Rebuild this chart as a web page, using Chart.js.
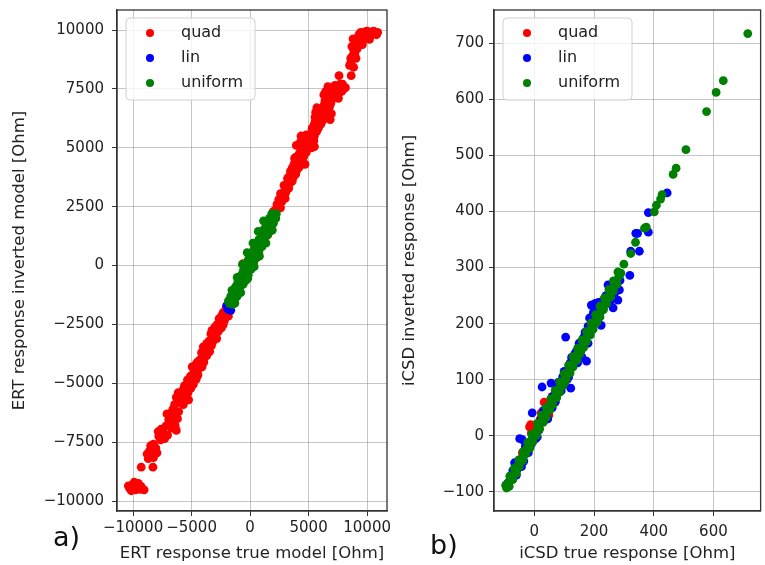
<!DOCTYPE html>
<html>
<head>
<meta charset="utf-8">
<title>ERT / iCSD responses</title>
<script src="https://cdn.jsdelivr.net/npm/chart.js@4.4.1/dist/chart.umd.min.js"></script>
<style>
  body { margin: 0; background: #fff; width: 765px; height: 565px; overflow: hidden; position: relative; font-family: "DejaVu Sans", sans-serif; }
  canvas { position: absolute; top: 0; }
  #ert { left: 0; }
  #csd { left: 390px; }
  .tag { position: absolute; font-size: 27px; line-height: 27px; color: #111; }
</style>
</head>
<body>
<canvas id="ert" width="395" height="565"></canvas>
<canvas id="csd" width="375" height="565"></canvas>
<div class="tag" style="left:53px; top:523px;">a)</div>
<div class="tag" style="left:430px; top:531px;">b)</div>
<script>
// ---- panel a) ERT response, true vs inverted [Ohm] ----
const ertQuad = [
  [-10300,-9450],[-10050,-9300],[-9800,-9520],[-9550,-9250],[-9300,-9380],[-9050,-9520],[-10150,-9560],[-9650,-9400],
  [-9900,-9200],[-9400,-9500],[-10400,-9350],
  [-9300,-8560],[-8300,-8560],
  [-8800,-8000],[-8600,-7880],[-8250,-8150],[-7950,-7950],[-8500,-7650],[-8250,-7580],
  [-8700,-8200],[-8050,-7750],[-8400,-7950],[-7650,-7400],[-7850,-7050],[-7300,-7350],
  [-7800,-7250],[-7400,-7100],[-7050,-7200],[-7600,-6950],[-7200,-6820],[-6650,-6700],[-6300,-7000],[-6400,-6800],
  [-6950,-6550],[-7100,-6300],[-6700,-6900],[-6600,-6100],[-6100,-6200],[-6700,-6250],
  [-6850,-6420],[-6500,-6200],[-6200,-6500],[-6450,-5900],[-6000,-5820],[-6300,-5600],[-5700,-5900],[-5850,-5400],[-5500,-5520],[-5250,-5700],
  [-6150,-5400],[-5950,-5650],[-5600,-5750],[-5400,-5300],[-5700,-5250],[-5300,-5400],[-5050,-5200],
  [-5600,-5100],[-5200,-5000],[-4900,-4880],[-5100,-4700],[-4600,-4820],[-4800,-4500],[-4400,-4400],[-4650,-4200],[-4100,-4300],[-4300,-4000],[-3900,-3900],[-4150,-3700],[-3700,-3820],
  [-4850,-5050],[-5350,-4850],[-4450,-4650],[-4950,-4300],[-4500,-4100],[-4250,-4200],[-3950,-4100],
  [-3600,-3500],[-3300,-3400],[-3500,-3200],[-3100,-3100],[-3350,-2900],[-2900,-2920],[-2700,-2780],[-3000,-2600],[-2600,-2500],[-2300,-2520],[-2500,-2300],[-2100,-2200],[-2300,-2000],[-1950,-2020],[-1700,-1900],[-2050,-1800],
  [-3850,-3600],[-4000,-3450],[-3450,-3650],[-3700,-3300],[-3200,-3250],[-3250,-2750],[-2850,-3100],
  [-2800,-2500],[-2450,-2650],[-2650,-2250],[-2200,-2350],[-2400,-2100],[-1850,-2150],[-2150,-1950],
  [-1500,-1500],[-1250,-1300],[-950,-900],[-700,-520],[-1000,-620],[-340,0],[-600,85],[-150,-250],[300,480],[600,720],[900,1100],[1250,1280],[1550,1700],[1850,1900],[1500,1300],
  [-1650,-1650],[-1400,-1200],[-1100,-1000],[-800,-650],[-550,-350],[-100,100],[200,350],[500,300],[700,950],[1000,800],[1150,1350],[1400,1550],[1700,1450],[2000,2000],[2100,2150],
  [2000,2300],[2300,2600],[2600,2450],[2800,2900],[2450,2800],[3050,3100],[2900,3400],[3300,3280],[3200,3700],[3600,3580],[3450,4000],[3900,3880],[3750,4300],[4200,4180],[4050,4600],[4500,4480],[4350,4900],[4800,4800],[3950,5100],[4650,5200],[5250,5000],[4550,5400],[5000,5520],[5450,5300],[5300,5820],[5700,5700],[5550,6100],[6050,6000],[5900,6400],[6300,6280],[6150,6700],[6650,6600],[6400,7000],[6900,6880],[6700,7300],[7100,7180],[7550,7100],[7000,7500],[7450,7480],[7850,7400],[7700,7700],[8150,7550],[6450,7380],[6650,7600],
  [2200,2400],[2500,2550],[2700,2700],[2600,3050],[3000,2850],[3150,3450],[2950,3150],[3400,3500],[3350,3800],[3700,3750],[3600,4150],[4000,4050],[3800,4550],[4300,4350],[4200,4750],[4600,4650],[4450,5050],[4900,5000],[5100,5200],[4300,5250],[4800,5550],[5200,5600],[5100,5350],[5500,5500],[5450,5950],[5850,5850],[5700,6250],[6200,6150],[6000,6600],[6450,6450],[6350,6850],[6800,6750],[6550,7200],[7000,7050],[6900,7400],[7300,7300],[7650,7350],[7250,7650],[8000,7500],[7900,7700],[6300,7250],
  [5600,6500],[6950,6450],[5700,6700],[6850,6200],[5550,6300],[4350,5500],[5500,5050],[3900,4600],[4700,4300],
  [7600,8060],[8640,8060],
  [8500,8500],[8850,8420],[8600,8800],[8950,9000],[8700,9300],[9150,9200],[9000,9600],[9400,9480],[9300,9800],[9700,9680],[9800,9920],[10100,9800],[10400,9920],[10700,9850],[10900,9900],[10200,9600],[9600,9380],[8800,9620],
  [8600,8600],[8750,8900],[9050,9400],[8850,9150],[9200,9650],[9500,9750],[9900,9650],[10000,9950],[10300,9750],[10550,9950],[9450,9900],[10800,9800],[9050,8800]
];
const ertLin = [
  [-1900,-1850],[-1750,-1750],[-1500,-1400],[-1150,-1200],[-800,-850],[-500,-450],[-150,-200],[150,100],
  [500,500],[850,900],[1150,1100],[1500,1450],[1800,1850],[2050,2000],[1900,2150],[-2000,-1700],[-1650,-1900]
];
const ertUniform = [
  [-1750,-1620],[-1600,-1420],[-1450,-1500],[-1350,-1250],[-1200,-1100],[-1050,-1150],[-950,-900],[-800,-750],
  [-700,-800],[-600,-550],[-450,-450],[-300,-350],[-200,-150],[-50,-100],[100,50],[200,200],[350,300],[450,480],
  [600,550],[700,700],[850,800],[950,950],[1100,1050],[1200,1200],[1350,1300],[1450,1450],[1600,1550],[1700,1700],
  [1850,1800],[1950,1950],[2100,2050],[2250,2200],[1300,1450],[800,950],[300,450],[-200,0],[-700,-600],[-1200,-1250],
  [1750,1550],[1050,900],[-400,-550],[-1000,-900],
  [-1500,-1650],[-1300,-1450],[-1100,-1300],[-900,-1050],[-600,-800],[-400,-650],[-150,-400],[100,-150],[300,100],
  [550,350],[750,550],[1000,800],[1250,1050],[1500,1300],[1750,1500],[2000,1800],[2200,2000],
  [-1850,-1500],[-1650,-1300],[-1450,-1100],[-1250,-900],[-1050,-700],[-850,-450],[-600,-250],[-400,0],[-150,250],
  [50,450],[300,650],[500,850],[750,1100],[950,1300],[1200,1550],[1400,1750],[1650,2000],[1850,2200],
  [-1300,-1600],[-800,-1150],[-200,-550],[350,-50],[800,400],[1350,950],[1900,1500],
  [-1550,-1050],[-1100,-500],[-650,50],[-250,550],[250,950],[700,1450],[1150,1900]
];
const ertTicksX = [-10000, -5000, 0, 5000, 10000];
const ertTicksY = [-10000, -7500, -5000, -2500, 0, 2500, 5000, 7500, 10000];

// ---- panel b) iCSD response, true vs inverted [Ohm] ----
const csdQuad = [
  [-88,-84],[-75,-70],[-60,-62],[-52,-45],[-40,-30],[-23,-30],[-30,-18],[-16,16],[-10,5],[0,-5],[-12,20],[8,15],
  [23,41],[20,30],[33,60],[49,37],[45,55],[60,70],[70,62],[82,82],[90,95],[100,92],[115,120],[130,128],[145,150],
  [160,158],[175,180],[190,188],[205,210],[220,218],[240,242],[260,258]
];
const csdLin = [
  [-90,-85],[-80,-72],[-72,-62],[-66,-48],[-55,-58],[-43,-55],[-49,-5],[-40,-7],[-30,-20],[-20,-30],[-7,41],[-10,-15],
  [5,-5],[15,10],[26,87],[23,30],[40,35],[56,94],[60,70],[70,60],[80,95],[90,80],[105,176],[100,115],[110,100],[122,85],
  [125,140],[140,150],[132,130],[150,165],[160,140],[175,133],[170,185],[185,210],[191,233],[198,220],[204,236],[224,197],
  [210,230],[231,242],[247,269],[264,228],[270,255],[280,242],[285,260],[287,277],[320,286],[323,329],[352,329],[340,361],
  [346,361],[382,363],[382,398],[445,433],
  [115,105],[135,145],[145,130],[155,150],[165,175],[180,165],[195,190],[120,130],[150,160],[60,50],[30,45],[-60,-70],
  [-35,-45],[10,-2],[45,30],[75,88],[95,105],[210,205],[240,250],[255,240],[215,238],[180,195]
];
const csdUniform = [
  [-93,-93],[-85,-83],[-78,-76],[-70,-70],[-62,-60],[-55,-53],[-47,-46],[-40,-38],[-32,-31],[-25,-23],[-17,-16],[-10,-8],
  [-2,0],[5,7],[13,14],[20,22],[28,29],[35,36],[43,44],[50,51],[58,59],[65,66],[73,73],[80,81],[88,88],[95,96],[103,103],
  [110,111],[118,118],[125,126],[133,133],[140,141],[148,148],[155,156],[163,163],[170,171],[178,178],[185,186],[193,193],
  [200,201],[208,208],[215,216],[223,223],[230,231],[238,238],[245,246],[253,253],[260,261],[268,268],[275,276],[283,284],
  [290,290],[300,306],[323,325],[339,345],[369,370],[375,372],[402,399],[409,411],[423,422],[428,430],[465,466],[475,477],
  [508,510],[577,578],[609,612],[633,633],[715,717],
  [-84,-90],[-72,-78],[-60,-67],[-50,-55],[-38,-44],[-28,-32],[-15,-22],[-5,-11],[8,1],[18,12],[30,24],[40,33],[52,46],
  [62,56],[75,68],[85,78],[97,90],[107,100],[120,112],[130,123],[143,135],[153,146],[165,157],[175,168],[188,180],[197,190],
  [210,202],[220,212],[232,225],[242,235],[255,247],[265,258],[277,270],
  [-96,-88],[-82,-72],[-67,-58],[-52,-43],[-37,-28],[-22,-12],[-8,3],[10,22],[25,37],[40,51],[55,66],[70,81],[85,96],
  [100,111],[115,126],[130,141],[145,156],[160,171],[175,186],[190,201],[205,216],[220,231],[235,246],[250,261],[265,276],[280,292]
];
const csdTicksX = [0, 200, 400, 600];
const csdTicksY = [-100, 0, 100, 200, 300, 400, 500, 600, 700];

const seriesNames = ['quad', 'lin', 'uniform'];
const seriesColors = ['#ff0000', '#0000ff', '#008000'];

Chart.defaults.font.family = '"DejaVu Sans", sans-serif';
Chart.defaults.color = '#222';

function fmt(v) {
  return v < 0 ? '\u2212' + Math.abs(v) : String(v);
}

// box round the plot + matplotlib style legend in the upper left corner
const frameLegend = {
  id: 'frameLegend',
  afterDatasetsDraw(chart) {
    const ctx = chart.ctx;
    const a = chart.chartArea;
    ctx.save();
    ctx.strokeStyle = '#333';
    ctx.lineWidth = 1.3;
    ctx.strokeRect(a.left, a.top, a.right - a.left, a.bottom - a.top);

    const bx = a.left + 9, by = a.top + 8, bw = 129, bh = 82, r = 4;
    ctx.beginPath();
    ctx.moveTo(bx + r, by);
    ctx.arcTo(bx + bw, by, bx + bw, by + bh, r);
    ctx.arcTo(bx + bw, by + bh, bx, by + bh, r);
    ctx.arcTo(bx, by + bh, bx, by, r);
    ctx.arcTo(bx, by, bx + bw, by, r);
    ctx.closePath();
    ctx.fillStyle = 'rgba(255,255,255,0.8)';
    ctx.fill();
    ctx.strokeStyle = '#d0d0d0';
    ctx.lineWidth = 1;
    ctx.stroke();

    ctx.font = '16px "DejaVu Sans"';
    ctx.textBaseline = 'middle';
    chart.data.datasets.forEach((ds, i) => {
      const y = a.top + 23 + i * 25;
      ctx.beginPath();
      ctx.arc(a.left + 33, y, 4, 0, Math.PI * 2);
      ctx.fillStyle = ds.backgroundColor;
      ctx.fill();
      ctx.fillStyle = '#222';
      ctx.fillText(ds.label, a.left + 64, y);
    });
    ctx.restore();
  }
};

function makeChart(id, series, cfg) {
  const datasets = series.map((pts, i) => ({
    label: seriesNames[i],
    data: pts.map(p => ({ x: p[0], y: p[1] })),
    backgroundColor: seriesColors[i],
    borderWidth: 0,
    pointRadius: 4.4,
    order: 3 - i
  }));
  const grid = { color: 'rgba(150,150,150,0.55)', lineWidth: 1, tickLength: 5, tickColor: '#333' };
  return new Chart(document.getElementById(id), {
    type: 'scatter',
    data: { datasets },
    options: {
      responsive: false,
      animation: false,
      layout: { padding: { top: 10, right: cfg.padRight, left: 0, bottom: 0 } },
      plugins: { legend: { display: false }, tooltip: { enabled: false } },
      scales: {
        x: {
          min: cfg.x[0], max: cfg.x[1],
          afterBuildTicks: s => { s.ticks = cfg.xTicks.map(v => ({ value: v })); },
          afterFit: s => { s.height = 54; s.paddingLeft = 0; s.paddingRight = 0; },
          ticks: { autoSkip: false, maxRotation: 0, padding: cfg.xPad, font: { size: 15 }, color: '#222', callback: fmt },
          grid,
          border: { color: '#333', width: 1.3 },
          title: { display: true, text: cfg.xTitle, font: { size: 16.5 }, color: '#222', padding: { top: 0, bottom: 1 } }
        },
        y: {
          min: cfg.y[0], max: cfg.y[1],
          afterBuildTicks: s => { s.ticks = cfg.yTicks.map(v => ({ value: v })); },
          afterFit: s => { s.width = cfg.yWidth; s.paddingTop = 0; s.paddingBottom = 0; },
          ticks: { autoSkip: false, padding: cfg.yPad, font: { size: 15 }, color: '#222', callback: fmt },
          grid,
          border: { color: '#333', width: 1.3 },
          title: { display: true, text: cfg.yTitle, font: { size: 16.5 }, color: '#222', padding: { top: 10, bottom: 0 } }
        }
      }
    },
    plugins: [frameLegend]
  });
}

makeChart('ert', [ertQuad, ertLin, ertUniform], {
  x: [-11370, 11700], y: [-10420, 10850],
  xTicks: ertTicksX, yTicks: ertTicksY,
  xTitle: 'ERT response true model [Ohm]',
  yTitle: 'ERT response inverted model [Ohm]',
  yWidth: 117, padRight: 8, xPad: 3, yPad: 8
});

makeChart('csd', [csdQuad, csdLin, csdUniform], {
  x: [-135, 758], y: [-134, 759],
  xTicks: csdTicksX, yTicks: csdTicksY,
  xTitle: 'iCSD true response [Ohm]',
  yTitle: 'iCSD inverted response [Ohm]',
  yWidth: 104, padRight: 1, xPad: 7, yPad: 5
});
</script>
</body>
</html>
